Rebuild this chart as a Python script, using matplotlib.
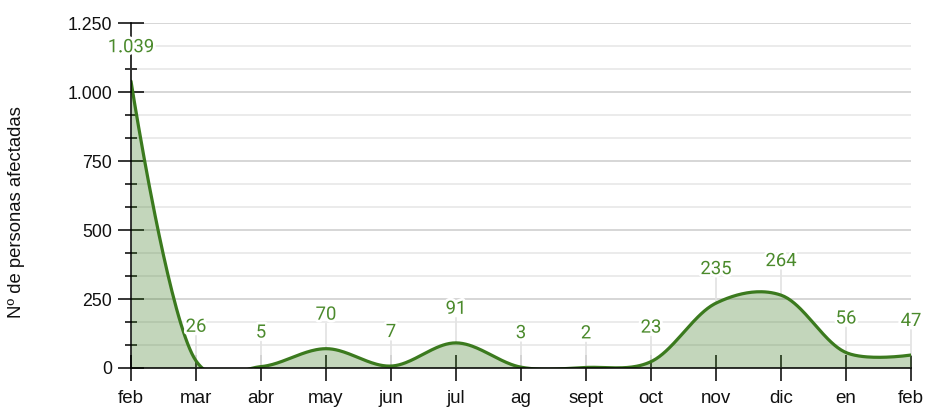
import numpy as np
import matplotlib
matplotlib.use("Agg")
import matplotlib.pyplot as plt
import matplotlib.patheffects as pe
from matplotlib.ticker import MultipleLocator, FuncFormatter

months = ["feb", "mar", "abr", "may", "jun", "jul", "ag", "sept",
          "oct", "nov", "dic", "en", "feb"]
afectados = [1039, 26, 5, 70, 7, 91, 3, 2, 23, 235, 264, 56, 47]

line_col = "#3b7a1e"
label_col = "#4b8a2c"


def catmull_rom_px(pts, alpha=0.25, n=40):
    # catmull-rom in screen space (d3.curveCatmullRom style, ends not extended)
    pts = np.asarray(pts, dtype=float)
    P = np.vstack([pts[:1], pts, pts[-1:]])
    out = [pts[0]]
    for i in range(1, len(P) - 2):
        p0, p1, p2, p3 = P[i - 1], P[i], P[i + 1], P[i + 2]
        d01 = np.hypot(*(p1 - p0)) if i > 1 else 0.0
        d12 = np.hypot(*(p2 - p1))
        d23 = np.hypot(*(p3 - p2)) if i < len(P) - 3 else 0.0
        l01a, l12a, l23a = d01 ** alpha, d12 ** alpha, d23 ** alpha
        l01_2a, l12_2a, l23_2a = l01a ** 2, l12a ** 2, l23a ** 2
        c1 = p1.copy()
        c2 = p2.copy()
        if d01 > 1e-12:
            a = 2 * l01_2a + 3 * l01a * l12a + l12_2a
            m = 3 * l01a * (l01a + l12a)
            c1 = (p1 * a - p0 * l12_2a + p2 * l01_2a) / m
        if d23 > 1e-12:
            b = 2 * l23_2a + 3 * l23a * l12a + l12_2a
            m = 3 * l23a * (l23a + l12a)
            c2 = (p2 * b + p1 * l23_2a - p3 * l12_2a) / m
        t = np.linspace(0, 1, n + 1)[1:, None]
        seg = ((1 - t) ** 3 * p1 + 3 * (1 - t) ** 2 * t * c1
               + 3 * (1 - t) * t ** 2 * c2 + t ** 3 * p2)
        out.extend(seg)
    return np.array(out)


x = np.arange(len(months))

fig = plt.figure(figsize=(9.41, 4.07), dpi=100)
ax = fig.add_axes([131 / 941, 39 / 407, 780 / 941, 345 / 407])
ax.set_xlim(0, len(months) - 1)
ax.set_ylim(0, 1250)

# smooth the line in display space, then map back to data coordinates
px = ax.transData.transform(np.column_stack([x, afectados]))
curve = ax.transData.inverted().transform(catmull_rom_px(px))
xs, ys = curve[:, 0], curve[:, 1]

ax.fill_between(xs, 0, ys, color=line_col, alpha=0.3, lw=0, zorder=1)
ax.plot(xs, ys, color=line_col, lw=2.3, zorder=3, solid_capstyle="round")

ax.yaxis.set_major_locator(MultipleLocator(250))
ax.yaxis.set_minor_locator(MultipleLocator(250 / 3))
ax.yaxis.set_major_formatter(FuncFormatter(lambda v, p: f"{int(v):,}".replace(",", ".")))
ax.set_xticks(x)
ax.set_xticklabels(months)

ax.grid(axis="y", which="major", color="#d0d0d0", lw=1.2, zorder=0)
ax.grid(axis="y", which="minor", color="#e8e8e8", lw=1.2, zorder=0)
ax.set_axisbelow(True)

for s in ["top", "right"]:
    ax.spines[s].set_visible(False)
for s in ["left", "bottom"]:
    ax.spines[s].set_color("black")
    ax.spines[s].set_linewidth(1.1)
    ax.spines[s].set_zorder(4)

ax.tick_params(axis="both", which="major", direction="inout", length=19,
               width=1.1, color="black", labelcolor="#111111")
ax.tick_params(axis="y", which="minor", direction="inout", length=9,
               width=1.1, color="black")
ax.tick_params(axis="x", pad=6, labelsize=13.5)
ax.tick_params(axis="y", pad=4, labelsize=12.8)
for lab in ax.get_xticklabels() + ax.get_yticklabels():
    lab.set_fontfamily("Liberation Sans")

ax.set_ylabel("Nº de personas afectadas", fontsize=13.3, family="Liberation Sans",
              color="#111111")
ax.yaxis.set_label_coords(-0.136, 0.452)

for xi, v in zip(x, afectados):
    ax.annotate("", xy=(xi, v), xytext=(0, 18), textcoords="offset points",
                arrowprops=dict(arrowstyle="-", color="#e4e4e4", lw=1.3,
                                shrinkA=0, shrinkB=0),
                zorder=2, annotation_clip=False)
    ax.annotate(f"{v:,}".replace(",", "."), xy=(xi, v), xytext=(0, 24.5),
                textcoords="offset points", ha="center", va="center",
                fontsize=13.3, family="Roboto", color=label_col, zorder=6,
                annotation_clip=False,
                path_effects=[pe.withStroke(linewidth=4, foreground="white")])

fig.savefig("out.png", dpi=100)
